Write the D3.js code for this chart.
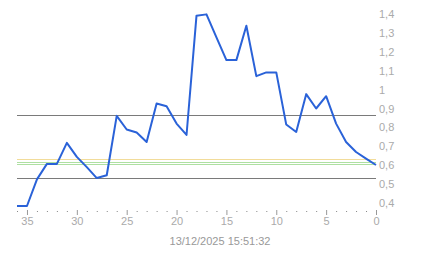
<!DOCTYPE html>
<html>
<head>
<meta charset="utf-8">
<script src="https://cdn.jsdelivr.net/npm/d3@7"></script>
<style>
  body { margin: 0; background: #fff; }
  svg { display: block; }
  text { font-family: "Liberation Sans", Arial, sans-serif; }
</style>
</head>
<body>
<script>
// Datos: días atrás (36 .. 0) y valores
const dias = d3.range(36, -1, -1);
const valores = [0.384, 0.384, 0.525, 0.607, 0.607, 0.718, 0.644, 0.59, 0.532, 0.547,
  0.861, 0.789, 0.773, 0.723, 0.926, 0.912, 0.82, 0.76, 1.391, 1.398,
  1.276, 1.156, 1.156, 1.338, 1.071, 1.091, 1.091, 0.815, 0.776, 0.976,
  0.9, 0.965, 0.82, 0.723, 0.67, 0.635, 0.601];
const yTicks = [0.4, 0.5, 0.6, 0.7, 0.8, 0.9, 1, 1.1, 1.2, 1.3, 1.4];
const xTicks = [35, 30, 25, 20, 15, 10, 5, 0];
const niveles = [0.864, 0.531];            // líneas grises
const nivelesAmarillo = [0.631];
const nivelesVerde = [0.615, 0.606];
const titulo = "13/12/2025 15:51:32";

const W = 443, H = 258;
const svg = d3.select("body").append("svg").attr("width", W).attr("height", H);

const x = d3.scaleLinear().domain([36, 0]).range([17, 376]);
const y = d3.scaleLinear().domain([0.4, 1.4]).range([203, 14]);

// Líneas horizontales de referencia
const refs = [
  ...nivelesAmarillo.map(v => ({ v, c: "#f2dc9a" })),
  ...nivelesVerde.map(v => ({ v, c: "#aee0a2" })),
  ...niveles.map(v => ({ v, c: "#7a7a7a" }))
];
svg.selectAll("line.ref")
  .data(refs)
  .join("line")
  .attr("class", "ref")
  .attr("x1", x(36)).attr("x2", x(0))
  .attr("y1", d => Math.round(y(d.v)) + 0.5)
  .attr("y2", d => Math.round(y(d.v)) + 0.5)
  .attr("stroke", d => d.c)
  .attr("stroke-width", 1);

// Eje Y a la derecha, solo etiquetas
const fmt = d => d3.format("~g")(d).replace(".", ",");
svg.append("g")
  .attr("transform", `translate(${x(0)},0)`)
  .call(d3.axisRight(y).tickValues(yTicks).tickFormat(fmt).tickSize(0).tickPadding(3))
  .call(g => g.select(".domain").remove())
  .call(g => g.selectAll("text").attr("fill", "#aaa").attr("font-size", 11)
    .attr("font-family", "Liberation Sans, Arial, sans-serif"));

// Eje X: marcas menores en cada día, mayores cada 5
svg.append("g")
  .attr("transform", "translate(0,211)")
  .call(d3.axisBottom(x).tickValues(d3.range(36, -1, -1).filter(d => d % 5 !== 0)).tickSize(1).tickFormat(""))
  .call(g => g.select(".domain").remove())
  .call(g => g.selectAll("line").attr("stroke", "#888"));

svg.append("g")
  .attr("transform", "translate(0,210)")
  .call(d3.axisBottom(x).tickValues(xTicks).tickSize(5).tickPadding(2).tickFormat(d3.format("d")))
  .call(g => g.select(".domain").remove())
  .call(g => g.selectAll("line").attr("stroke", "#999"))
  .call(g => g.selectAll("text").attr("fill", "#aaa").attr("font-size", 11)
    .attr("font-family", "Liberation Sans, Arial, sans-serif"));

// Serie principal
const linea = d3.line().x((d, i) => x(dias[i])).y(d => y(d));
svg.append("path")
  .datum(valores)
  .attr("d", linea)
  .attr("fill", "none")
  .attr("stroke", "#2a62d8")
  .attr("stroke-width", 2)
  .attr("stroke-linejoin", "round");

// Fecha debajo del eje
svg.append("text")
  .attr("x", 220)
  .attr("y", 245)
  .attr("text-anchor", "middle")
  .attr("font-size", 11)
  .attr("fill", "#999")
  .text(titulo);
</script>
</body>
</html>
